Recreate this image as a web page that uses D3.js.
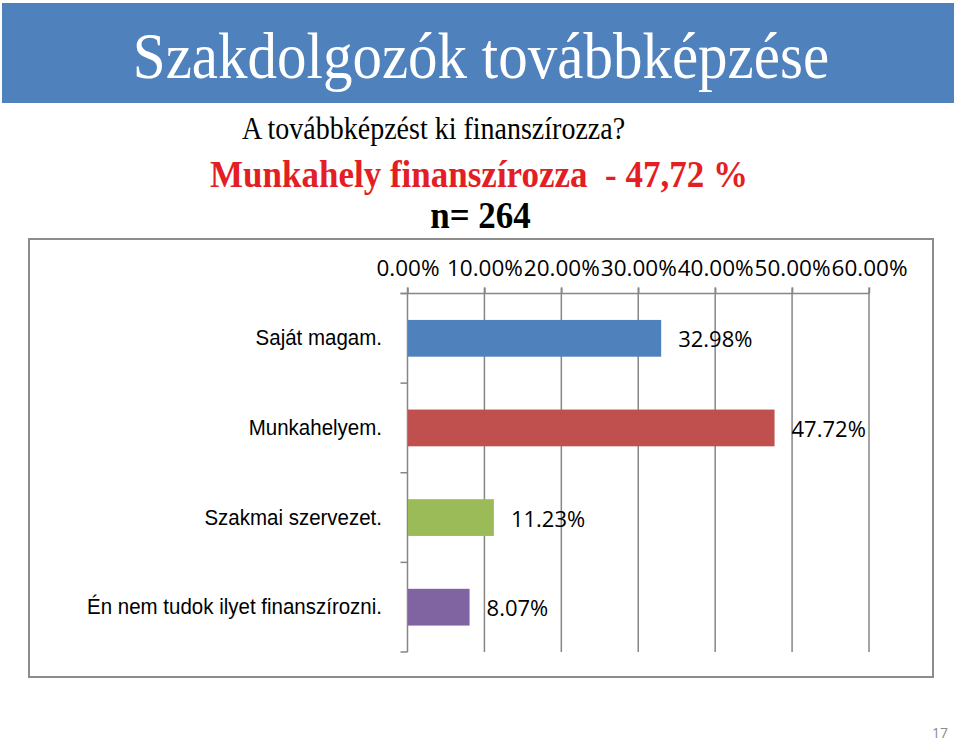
<!DOCTYPE html>
<html>
<head>
<meta charset="utf-8">
<script src="https://cdnjs.cloudflare.com/ajax/libs/d3/7.8.5/d3.min.js"></script>
<style>
  html, body { margin: 0; padding: 0; background: #fff; }
  svg { display: block; }
</style>
</head>
<body>
<svg id="chart" width="960" height="741"></svg>
<script>
// ---- data ----
const categories = ["Saját magam.", "Munkahelyem.", "Szakmai szervezet.", "Én nem tudok ilyet finanszírozni."];
const values = [32.98, 47.72, 11.23, 8.07];
const barColors = ["#4F81BD", "#C0504D", "#9BBB59", "#8064A2"];
const tickValues = [0, 10, 20, 30, 40, 50, 60];
const tickLabels = ["0.00%", "10.00%", "20.00%", "30.00%", "40.00%", "50.00%", "60.00%"];
const valueLabels = ["32.98%", "47.72%", "11.23%", "8.07%"];
const headerTitle = "Szakdolgozók továbbképzése";
const subtitleLines = ["A továbbképzést ki finanszírozza?", "Munkahely finanszírozza  - 47,72 %", "n= 264"];
const pageNumber = "17";

// ---- layout ----
const svg = d3.select("#chart");
const serif = "'Liberation Serif', 'Times New Roman', serif";
const sans = "'Liberation Sans', Arial, sans-serif";
const calib = "'Open Sans', 'DejaVu Sans', sans-serif";
const stretch = 1.1;

// header band
svg.append("rect").attr("x", 2).attr("y", 3).attr("width", 952).attr("height", 100).attr("fill", "#4F81BD");
svg.append("text")
  .attr("transform", `translate(481,78) scale(1,${stretch})`)
  .attr("text-anchor", "middle")
  .attr("font-family", serif).attr("font-size", 59).attr("fill", "#fff")
  .text(headerTitle);

// subtitles
const subSpecs = [
  { x: 433.5, y: 139, size: 28, weight: "normal", color: "#000" },
  { x: 479, y: 187, size: 35, weight: "bold", color: "#E31E24" },
  { x: 480.5, y: 228, size: 35, weight: "bold", color: "#000" }
];
subtitleLines.forEach((t, i) => {
  const s = subSpecs[i];
  svg.append("text")
    .attr("transform", `translate(${s.x},${s.y}) scale(1,${stretch})`)
    .attr("text-anchor", "middle")
    .attr("font-family", serif).attr("font-size", s.size)
    .attr("font-weight", s.weight).attr("fill", s.color)
    .attr("xml:space", "preserve").style("white-space", "pre")
    .text(t);
});

// chart frame
svg.append("rect").attr("x", 29).attr("y", 239).attr("width", 904).attr("height", 438)
  .attr("fill", "#fff").attr("stroke", "#8C8C8C").attr("stroke-width", 2);

// scales
const x = d3.scaleLinear().domain([0, 60]).range([407.5, 869]);
const y = d3.scaleBand().domain(categories).range([293.5, 652]).paddingInner(0.59).paddingOuter(0.295);

const gridColor = "#868686";

// vertical gridlines (extending above the axis as ticks)
svg.append("g").selectAll("line").data(tickValues).join("line")
  .attr("x1", d => x(d)).attr("x2", d => x(d))
  .attr("y1", 287.5).attr("y2", 652)
  .attr("stroke", gridColor).attr("stroke-width", 1.5);

// top axis with labels
const xAxis = d3.axisTop(x).tickValues(tickValues)
  .tickFormat((d, i) => tickLabels[i]).tickSize(6).tickPadding(12);
const gx = svg.append("g").attr("transform", "translate(0,293.5)").call(xAxis);
gx.select(".domain").remove();
gx.selectAll(".tick line").attr("stroke", gridColor).attr("stroke-width", 1.5);
gx.selectAll(".tick text").attr("font-family", calib).attr("font-size", 22.5).attr("fill", "#000");

// horizontal axis line
svg.append("line").attr("x1", 400.5).attr("x2", x(60)).attr("y1", 293.5).attr("y2", 293.5)
  .attr("stroke", gridColor).attr("stroke-width", 1.5);

// left category boundary ticks
const step = y.step();
const bounds = d3.range(categories.length + 1).map(i => y.range()[0] + i * step);
svg.append("g").selectAll("line").data(bounds).join("line")
  .attr("x1", 400.5).attr("x2", x(0)).attr("y1", d => d).attr("y2", d => d)
  .attr("stroke", gridColor).attr("stroke-width", 1.5);

// bars
svg.append("g").selectAll("rect").data(values).join("rect")
  .attr("x", x(0) + 0.5)
  .attr("y", (d, i) => y(categories[i]))
  .attr("width", d => x(d) - x(0) - 0.5)
  .attr("height", y.bandwidth())
  .attr("fill", (d, i) => barColors[i]);

// value labels
svg.append("g").selectAll("text").data(values).join("text")
  .attr("x", d => x(d) + 17)
  .attr("y", (d, i) => y(categories[i]) + y.bandwidth() / 2 + 9)
  .attr("font-family", calib).attr("font-size", 22).attr("fill", "#000")
  .text((d, i) => valueLabels[i]);

// category labels
svg.append("g").selectAll("text").data(categories).join("text")
  .attr("transform", d => `translate(382,${y(d) + y.bandwidth() / 2 + 7}) scale(1,1.12)`)
  .attr("text-anchor", "end")
  .attr("font-family", sans).attr("font-size", 20.5).attr("fill", "#000")
  .text(d => d);

// page number
svg.append("text").attr("x", 948).attr("y", 738).attr("text-anchor", "end")
  .attr("font-family", calib).attr("font-size", 14).attr("fill", "#8C8C8C")
  .text(pageNumber);
</script>
</body>
</html>
